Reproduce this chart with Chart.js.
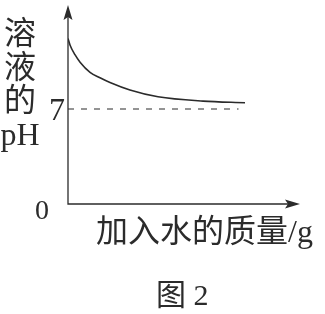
<!DOCTYPE html>
<html>
<head>
<meta charset="utf-8">
<script src="https://cdn.jsdelivr.net/npm/chart.js@4"></script>
<style>
    html, body { margin: 0; padding: 0; background: #ffffff; }
    #wrap { width: 325px; height: 314px; position: relative; }
</style>
</head>
<body>
<div id="wrap"><canvas id="phChart" width="325" height="314"></canvas></div>
<script>
// water added (arbitrary units along x) and pH
const waterMass = [0, 0.9, 3, 5.2, 9.5, 13.8, 18.1, 26.7, 38.8, 58.2, 76.3];
const phValues = [12.2, 11.7, 11.0, 10.45, 9.7, 9.3, 8.95, 8.4, 7.9, 7.58, 7.46];
const neutralPh = 7;
const neutralLineEnd = 73.5;
const xMax = 100;
const yMax = 14.66;

const ink = '#2b2b2b';
const serif = '"Liberation Serif", "Noto Sans CJK SC", serif';

const axesPlugin = {
    id: 'axesPlugin',
    afterDraw(chart) {
        const ctx = chart.ctx;
        const x = chart.scales.x;
        const y = chart.scales.y;
        const x0 = x.getPixelForValue(0);
        const y0 = y.getPixelForValue(0);
        const xEnd = x.getPixelForValue(xMax);
        const yTop = y.getPixelForValue(yMax);

        ctx.save();
        ctx.strokeStyle = ink;
        ctx.fillStyle = ink;
        ctx.lineWidth = 1.3;

        // axes
        ctx.beginPath();
        ctx.moveTo(x0, yTop + 8);
        ctx.lineTo(x0, y0);
        ctx.lineTo(xEnd - 8, y0);
        ctx.stroke();

        // arrow heads
        ctx.beginPath();
        ctx.moveTo(x0, yTop);
        ctx.lineTo(x0 - 4.5, yTop + 15);
        ctx.lineTo(x0, yTop + 12);
        ctx.lineTo(x0 + 4.5, yTop + 15);
        ctx.closePath();
        ctx.fill();

        ctx.beginPath();
        ctx.moveTo(xEnd, y0);
        ctx.lineTo(xEnd - 15, y0 - 4.5);
        ctx.lineTo(xEnd - 12, y0);
        ctx.lineTo(xEnd - 15, y0 + 4.5);
        ctx.closePath();
        ctx.fill();

        // tick labels
        ctx.textBaseline = 'middle';
        ctx.font = '32px ' + serif;
        ctx.textAlign = 'right';
        ctx.fillText(String(neutralPh), x0 - 3, y.getPixelForValue(neutralPh) + 3);
        ctx.font = '28px ' + serif;
        ctx.textAlign = 'center';
        ctx.fillText('0', 42, y0 + 8);

        // y title, stacked
        ctx.font = '32px ' + serif;
        ctx.textAlign = 'center';
        ['溶', '液', '的', 'pH'].forEach((t, i) => {
            ctx.fillText(t, 20, 36 + i * 33.5);
        });

        // x title and caption
        ctx.textAlign = 'left';
        ctx.fillText('加入水的质量/g', 96, 234);
        ctx.font = '30px ' + serif;
        ctx.fillText('图 2', 156, 297);
        ctx.restore();
    }
};

const ctx = document.getElementById('phChart').getContext('2d');
const phChart = new Chart(ctx, {
    type: 'line',
    data: {
        datasets: [{
            data: waterMass.map((m, i) => ({ x: m, y: phValues[i] })),
            borderColor: ink,
            borderWidth: 1.6,
            pointRadius: 0,
            cubicInterpolationMode: 'monotone',
            fill: false
        }, {
            data: [{ x: 0, y: neutralPh }, { x: neutralLineEnd, y: neutralPh }],
            borderColor: ink,
            borderWidth: 1.2,
            borderDash: [6, 7],
            pointRadius: 0,
            fill: false
        }]
    },
    options: {
        responsive: false,
        animation: false,
        layout: {
            padding: { left: 68, right: 25, top: 5, bottom: 110 }
        },
        plugins: {
            legend: { display: false },
            tooltip: { enabled: false }
        },
        scales: {
            x: { type: 'linear', min: 0, max: xMax, display: false },
            y: { type: 'linear', min: 0, max: yMax, display: false }
        }
    },
    plugins: [axesPlugin]
});
</script>
</body>
</html>
